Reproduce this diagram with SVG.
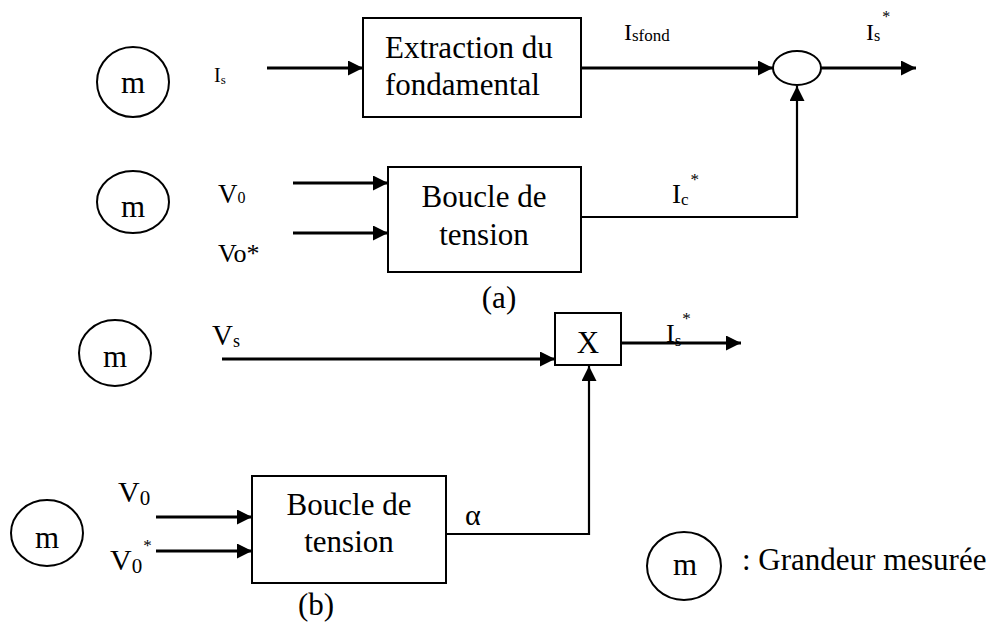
<svg xmlns="http://www.w3.org/2000/svg" width="995" height="623" viewBox="0 0 995 623">
<defs>
<style>
text{font-family:"Liberation Serif","Times New Roman",serif;fill:#000}
.t{font-size:31px}
.lb{font-size:24px}
.sb{font-size:16px}
.box{fill:#fff;stroke:#000;stroke-width:2}
.circ{fill:none;stroke:#000;stroke-width:2}
.w{fill:none;stroke:#000;stroke-width:3}
.w2{fill:none;stroke:#000;stroke-width:2.2}
</style>
<marker id="ah" markerUnits="userSpaceOnUse" markerWidth="16" markerHeight="16" refX="15" refY="7.5" orient="auto">
<path d="M0,0 L15,7.5 L0,15 z" fill="#000"/>
</marker>
</defs>
<rect width="995" height="623" fill="#fff"/>

<g id="connectors">
<line class="w" x1="267" y1="68" x2="363" y2="68" marker-end="url(#ah)"/>
<line class="w" x1="581" y1="68" x2="773" y2="68" marker-end="url(#ah)"/>
<line class="w" x1="821" y1="68" x2="916" y2="68" marker-end="url(#ah)"/>
<polyline class="w2" points="581,217 797,217 797,86" marker-end="url(#ah)"/>
<line class="w" x1="293" y1="183" x2="388" y2="183" marker-end="url(#ah)"/>
<line class="w" x1="293" y1="233" x2="388" y2="233" marker-end="url(#ah)"/>
<line class="w" x1="222" y1="359" x2="555" y2="359" marker-end="url(#ah)"/>
<line class="w" x1="621" y1="343" x2="741" y2="343" marker-end="url(#ah)"/>
<polyline class="w2" points="446,534 589,534 589,366" marker-end="url(#ah)"/>
<line class="w" x1="156" y1="517" x2="252" y2="517" marker-end="url(#ah)"/>
<line class="w" x1="156" y1="551" x2="252" y2="551" marker-end="url(#ah)"/>
</g>

<g id="m1"><ellipse class="circ" cx="133" cy="82" rx="36" ry="35"/><text class="t" x="133" y="93" text-anchor="middle">m</text></g>
<g id="m2"><ellipse class="circ" cx="133" cy="202" rx="36" ry="31"/><text class="t" x="133" y="217" text-anchor="middle">m</text></g>
<g id="m3"><ellipse class="circ" cx="115" cy="353" rx="36" ry="33"/><text class="t" x="115" y="367" text-anchor="middle">m</text></g>
<g id="m4"><ellipse class="circ" cx="47" cy="533" rx="36" ry="33"/><text class="t" x="47" y="548" text-anchor="middle">m</text></g>

<g id="extraction">
<rect class="box" x="363" y="18" width="218" height="99"/>
<text class="t" x="385" y="58">Extraction du</text>
<text class="t" x="385" y="95">fondamental</text>
</g>

<g id="sum"><ellipse class="circ" cx="797" cy="68" rx="24" ry="17"/></g>

<g id="boucle-a">
<rect class="box" x="388" y="167" width="193" height="105"/>
<text class="t" x="484" y="207" text-anchor="middle">Boucle de</text>
<text class="t" x="484" y="245" text-anchor="middle">tension</text>
</g>

<g id="mult">
<rect class="box" x="555" y="313" width="66" height="52"/>
<text class="t" x="588" y="353" text-anchor="middle">X</text>
</g>

<g id="boucle-b">
<rect class="box" x="252" y="476" width="194" height="107"/>
<text class="t" x="349" y="515" text-anchor="middle">Boucle de</text>
<text class="t" x="349" y="552" text-anchor="middle">tension</text>
</g>

<g id="legend">
<ellipse class="circ" cx="684" cy="566" rx="37" ry="34"/>
<text class="t" x="685" y="575" text-anchor="middle">m</text>
<text class="t" x="742" y="570">: Grandeur mesurée</text>
</g>

<g id="labels">
<text x="214" y="82" font-size="20">I<tspan font-size="13" dy="2">s</tspan></text>
<text x="624" y="40" font-size="24">I<tspan font-size="17" dy="1">sfond</tspan></text>
<text x="866" y="40" font-size="24">I<tspan font-size="16" dy="1">s</tspan><tspan font-size="16" dx="2" dy="-19">*</tspan></text>
<text x="672" y="203" font-size="27">I<tspan font-size="17" dy="2">c</tspan><tspan font-size="17" dx="2" dy="-20">*</tspan></text>
<text x="218" y="203" font-size="27">V<tspan font-size="16" dy="0">0</tspan></text>
<text x="218" y="262" font-size="26">Vo*</text>
<text class="t" x="499" y="308" text-anchor="middle">(a)</text>
<text x="212" y="345" font-size="29">V<tspan font-size="18" dy="2">s</tspan></text>
<text x="666" y="342" font-size="26">I<tspan font-size="17" dy="4">s</tspan><tspan font-size="17" dx="1" dy="-22">*</tspan></text>
<text x="465" y="525" font-size="30">α</text>
<text x="118" y="502" font-size="30">V<tspan font-size="21" dy="3">0</tspan></text>
<text x="110" y="570" font-size="30">V<tspan font-size="21" dy="3">0</tspan><tspan font-size="17" dx="1" dy="-22">*</tspan></text>
<text class="t" x="316" y="615" text-anchor="middle">(b)</text>
</g>
</svg>
